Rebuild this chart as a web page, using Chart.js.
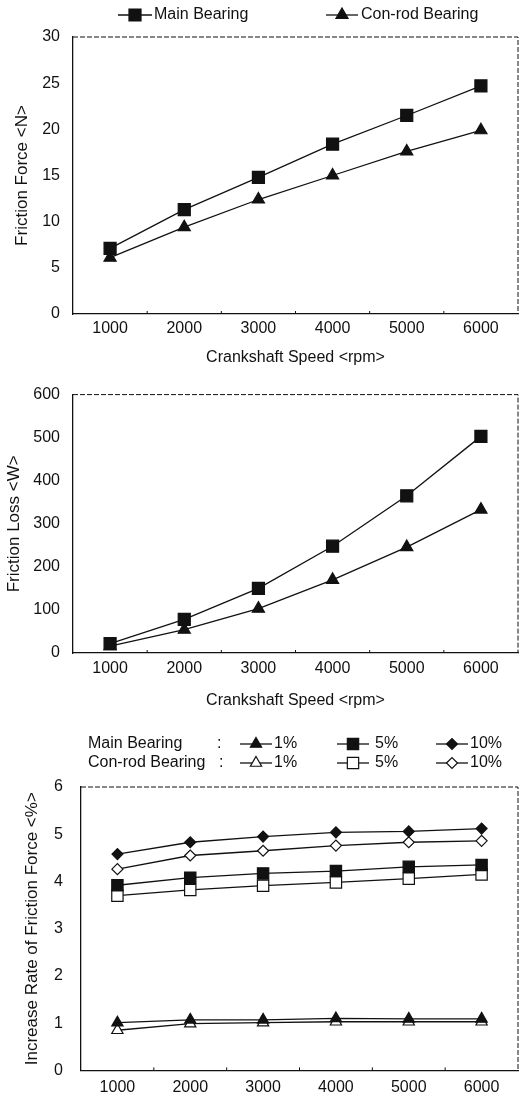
<!DOCTYPE html>
<html>
<head>
<meta charset="utf-8">
<script src="https://cdn.jsdelivr.net/npm/chart.js@4"></script>
<style>
  body { margin: 0; background: #fff; }
  .box { position: absolute; left: 0; width: 520px; }
</style>
</head>
<body>
<div class="box" style="top:0"><canvas id="forceChart" width="520" height="372"></canvas></div>
<div class="box" style="top:372px"><canvas id="lossChart" width="520" height="343"></canvas></div>
<div class="box" style="top:715px"><canvas id="rateChart" width="520" height="383"></canvas></div>
<script>
// crankshaft speeds (rpm) used as x values and tick labels
const speeds = [1000, 2000, 3000, 4000, 5000, 6000];

// friction force <N>
const forceMain = [7.1, 11.3, 14.8, 18.4, 21.5, 24.7];
const forceConrod = [6.1, 9.4, 12.4, 15.0, 17.6, 19.9];

// friction loss <W>
const lossMain = [22, 78, 150, 248, 365, 503];
const lossConrod = [16, 54, 103, 170, 246, 333];

// increase rate of friction force <%>
const rateMain1 = [1.01, 1.07, 1.07, 1.10, 1.09, 1.09];
const rateMain5 = [3.92, 4.08, 4.17, 4.22, 4.31, 4.35];
const rateMain10 = [4.58, 4.83, 4.95, 5.04, 5.06, 5.12];
const rateConrod1 = [0.85, 0.99, 1.01, 1.03, 1.03, 1.03];
const rateConrod5 = [3.70, 3.82, 3.91, 3.98, 4.06, 4.15];
const rateConrod10 = [4.26, 4.55, 4.65, 4.76, 4.83, 4.86];

Chart.defaults.font.family = '"Liberation Sans", Arial, sans-serif';
Chart.defaults.font.size = 16;
Chart.defaults.color = '#111';
Chart.defaults.animation = false;

const pts = arr => arr.map((v, i) => ({ x: speeds[i], y: v }));

function series(label, arr, style, radius, filled) {
  return {
    label: label,
    data: pts(arr),
    borderColor: '#111',
    borderWidth: 1.3,
    backgroundColor: filled ? '#111' : '#fff',
    pointStyle: style,
    pointRadius: radius,
    pointHoverRadius: radius,
    pointBorderColor: '#111',
    pointBackgroundColor: filled ? '#111' : '#fff',
    pointBorderWidth: 1.2,
    tension: 0,
    clip: false
  };
}

// dashed top/right frame plus small minor ticks on the x axis
const framePlugin = {
  id: 'frame',
  afterDraw(chart) {
    const { ctx, chartArea: a } = chart;
    const x = chart.scales.x;
    ctx.save();
    ctx.strokeStyle = '#111';
    ctx.lineWidth = 1;
    ctx.setLineDash([5, 2]);
    ctx.beginPath();
    ctx.moveTo(a.left, a.top);
    ctx.lineTo(a.right, a.top);
    ctx.lineTo(a.right, a.bottom);
    ctx.stroke();
    ctx.setLineDash([]);
    ctx.beginPath();
    for (let i = 0; i < speeds.length - 1; i++) {
      const px = x.getPixelForValue((speeds[i] + speeds[i + 1]) / 2);
      ctx.moveTo(px, a.bottom);
      ctx.lineTo(px, a.bottom - 3);
    }
    ctx.stroke();
    ctx.restore();
  }
};

// legend with a line through each marker
const lineLegend = {
  id: 'lineLegend',
  afterDraw(chart, args, opts) {
    const ctx = chart.ctx;
    ctx.save();
    ctx.font = '16px "Liberation Sans", Arial, sans-serif';
    ctx.fillStyle = '#111';
    ctx.textBaseline = 'middle';
    (opts.texts || []).forEach(t => ctx.fillText(t.text, t.x, t.y));
    (opts.items || []).forEach(it => {
      const ds = chart.data.datasets[it.ds];
      ctx.strokeStyle = '#111';
      ctx.lineWidth = 1.3;
      ctx.beginPath();
      ctx.moveTo(it.cx - it.half, it.y);
      ctx.lineTo(it.cx + it.half, it.y);
      ctx.stroke();
      ctx.fillStyle = ds.pointBackgroundColor;
      ctx.strokeStyle = ds.pointBorderColor;
      ctx.lineWidth = ds.pointBorderWidth;
      Chart.helpers.drawPoint(ctx, {
        pointStyle: ds.pointStyle,
        radius: ds.pointRadius,
        rotation: 0,
        borderWidth: ds.pointBorderWidth
      }, it.cx, it.y);
      ctx.fillStyle = '#111';
      ctx.fillText(it.text, it.tx, it.y);
    });
    ctx.restore();
  }
};

function options(cfg) {
  return {
    responsive: false,
    devicePixelRatio: 1,
    layout: { autoPadding: false, padding: { top: cfg.top, right: 2, left: 0, bottom: 0 } },
    plugins: {
      legend: { display: false },
      tooltip: { enabled: false },
      lineLegend: cfg.legend
    },
    scales: {
      x: {
        type: 'linear',
        min: 500,
        max: 6500,
        afterBuildTicks: s => { s.ticks = speeds.map(v => ({ value: v })); },
        afterFit: s => { s.height = cfg.xh; },
        grid: { display: false, drawTicks: false },
        border: { display: true, color: '#111', width: 1.3 },
        ticks: { padding: cfg.xpad, font: { size: 16 }, callback: v => String(v) },
        title: cfg.xTitle
          ? { display: true, text: cfg.xTitle, font: { size: 16 }, padding: { top: 0, bottom: 5 } }
          : { display: false }
      },
      y: {
        min: 0,
        max: cfg.ymax,
        ticks: { stepSize: cfg.step, padding: cfg.ypad, font: { size: 16 } },
        afterFit: s => { s.width = cfg.yw; },
        grid: { display: false, drawTicks: false },
        border: { display: true, color: '#111', width: 1.3 },
        title: { display: true, text: cfg.yTitle, font: { size: 17 }, padding: { top: cfg.ytp, bottom: 0 } }
      }
    }
  };
}

new Chart(document.getElementById('forceChart'), {
  type: 'line',
  data: {
    datasets: [
      series('Main Bearing', forceMain, 'rect', 8.5, true),
      series('Con-rod Bearing', forceConrod, 'triangle', 7, true)
    ]
  },
  options: options({
    top: 37, xh: 58, xpad: 5, yw: 73, ypad: 13, ytp: 12, ymax: 30, step: 5,
    xTitle: 'Crankshaft Speed <rpm>', yTitle: 'Friction Force <N>',
    legend: {
      items: [
        { ds: 0, cx: 135, half: 17, y: 15, tx: 154, text: 'Main Bearing' },
        { ds: 1, cx: 342, half: 16, y: 15, tx: 361, text: 'Con-rod Bearing' }
      ]
    }
  }),
  plugins: [framePlugin, lineLegend]
});

new Chart(document.getElementById('lossChart'), {
  type: 'line',
  data: {
    datasets: [
      series('Main Bearing', lossMain, 'rect', 8.5, true),
      series('Con-rod Bearing', lossConrod, 'triangle', 7, true)
    ]
  },
  options: options({
    top: 12, xh: 62, xpad: 6, yw: 73, ypad: 13, ytp: 4, ymax: 600, step: 100,
    xTitle: 'Crankshaft Speed <rpm>', yTitle: 'Friction Loss <W>',
    legend: {}
  }),
  plugins: [framePlugin]
});

new Chart(document.getElementById('rateChart'), {
  type: 'line',
  data: {
    datasets: [
      series('Main Bearing 1%', rateMain1, 'triangle', 6.5, true),
      series('Main Bearing 5%', rateMain5, 'rect', 8, true),
      series('Main Bearing 10%', rateMain10, 'rectRot', 5.5, true),
      series('Con-rod Bearing 1%', rateConrod1, 'triangle', 6.5, false),
      series('Con-rod Bearing 5%', rateConrod5, 'rect', 8, false),
      series('Con-rod Bearing 10%', rateConrod10, 'rectRot', 5.5, false)
    ]
  },
  options: options({
    top: 72, xh: 25, xpad: 8, yw: 81, ypad: 18, ytp: 22, ymax: 6, step: 1,
    xTitle: null, yTitle: 'Increase Rate of Friction Force <%>',
    legend: {
      texts: [
        { text: 'Main Bearing', x: 88, y: 29 },
        { text: ':', x: 217, y: 29 },
        { text: 'Con-rod Bearing', x: 88, y: 48 },
        { text: ':', x: 219, y: 48 }
      ],
      items: [
        { ds: 0, cx: 256, half: 16, y: 29, tx: 274, text: '1%' },
        { ds: 1, cx: 353, half: 16, y: 29, tx: 375, text: '5%' },
        { ds: 2, cx: 452, half: 16, y: 29, tx: 470, text: '10%' },
        { ds: 3, cx: 256, half: 16, y: 48, tx: 274, text: '1%' },
        { ds: 4, cx: 353, half: 16, y: 48, tx: 375, text: '5%' },
        { ds: 5, cx: 452, half: 16, y: 48, tx: 470, text: '10%' }
      ]
    }
  }),
  plugins: [framePlugin, lineLegend]
});
</script>
</body>
</html>
